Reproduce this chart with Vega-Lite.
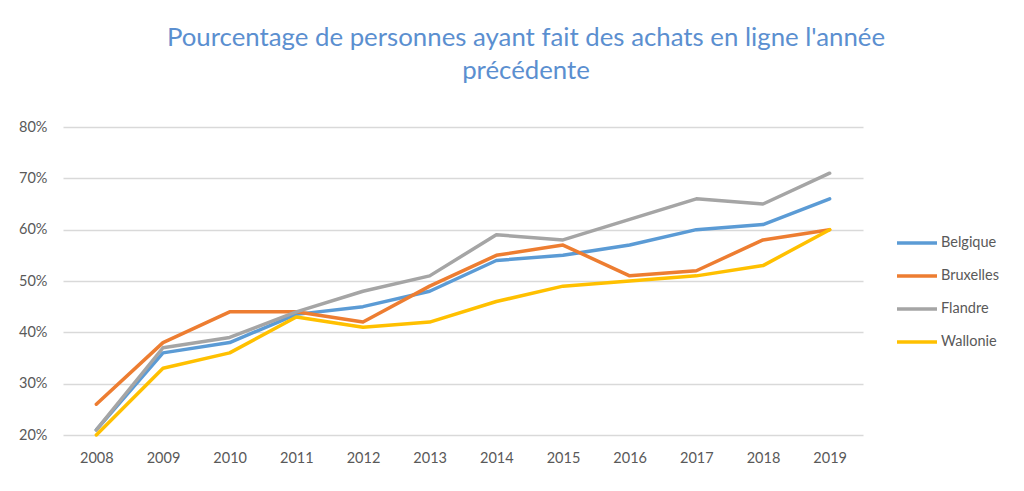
{
  "$schema": "https://vega.github.io/schema/vega-lite/v6.json",
  "width": 800,
  "height": 308,
  "autosize": {"type": "none"},
  "padding": {"left": 63, "top": 127, "right": 161, "bottom": 56},
  "background": "white",
  "title": {
    "text": ["Pourcentage de personnes ayant fait des achats en ligne l'année", "précédente"],
    "font": "Lato",
    "fontSize": 25.8,
    "fontWeight": "normal",
    "color": "#5B8FD0",
    "lineHeight": 33,
    "anchor": "middle",
    "frame": "group",
    "dx": 63,
    "offset": 34
  },
  "data": {
    "values": [
      {"annee": "2008", "region": "Belgique", "valeur": 0.21},
      {"annee": "2009", "region": "Belgique", "valeur": 0.36},
      {"annee": "2010", "region": "Belgique", "valeur": 0.38},
      {"annee": "2011", "region": "Belgique", "valeur": 0.435},
      {"annee": "2012", "region": "Belgique", "valeur": 0.45},
      {"annee": "2013", "region": "Belgique", "valeur": 0.48},
      {"annee": "2014", "region": "Belgique", "valeur": 0.54},
      {"annee": "2015", "region": "Belgique", "valeur": 0.55},
      {"annee": "2016", "region": "Belgique", "valeur": 0.57},
      {"annee": "2017", "region": "Belgique", "valeur": 0.60},
      {"annee": "2018", "region": "Belgique", "valeur": 0.61},
      {"annee": "2019", "region": "Belgique", "valeur": 0.66},
      {"annee": "2008", "region": "Bruxelles", "valeur": 0.26},
      {"annee": "2009", "region": "Bruxelles", "valeur": 0.38},
      {"annee": "2010", "region": "Bruxelles", "valeur": 0.44},
      {"annee": "2011", "region": "Bruxelles", "valeur": 0.44},
      {"annee": "2012", "region": "Bruxelles", "valeur": 0.42},
      {"annee": "2013", "region": "Bruxelles", "valeur": 0.49},
      {"annee": "2014", "region": "Bruxelles", "valeur": 0.55},
      {"annee": "2015", "region": "Bruxelles", "valeur": 0.57},
      {"annee": "2016", "region": "Bruxelles", "valeur": 0.51},
      {"annee": "2017", "region": "Bruxelles", "valeur": 0.52},
      {"annee": "2018", "region": "Bruxelles", "valeur": 0.58},
      {"annee": "2019", "region": "Bruxelles", "valeur": 0.60},
      {"annee": "2008", "region": "Flandre", "valeur": 0.21},
      {"annee": "2009", "region": "Flandre", "valeur": 0.37},
      {"annee": "2010", "region": "Flandre", "valeur": 0.39},
      {"annee": "2011", "region": "Flandre", "valeur": 0.44},
      {"annee": "2012", "region": "Flandre", "valeur": 0.48},
      {"annee": "2013", "region": "Flandre", "valeur": 0.51},
      {"annee": "2014", "region": "Flandre", "valeur": 0.59},
      {"annee": "2015", "region": "Flandre", "valeur": 0.58},
      {"annee": "2016", "region": "Flandre", "valeur": 0.62},
      {"annee": "2017", "region": "Flandre", "valeur": 0.66},
      {"annee": "2018", "region": "Flandre", "valeur": 0.65},
      {"annee": "2019", "region": "Flandre", "valeur": 0.71},
      {"annee": "2008", "region": "Wallonie", "valeur": 0.20},
      {"annee": "2009", "region": "Wallonie", "valeur": 0.33},
      {"annee": "2010", "region": "Wallonie", "valeur": 0.36},
      {"annee": "2011", "region": "Wallonie", "valeur": 0.43},
      {"annee": "2012", "region": "Wallonie", "valeur": 0.41},
      {"annee": "2013", "region": "Wallonie", "valeur": 0.42},
      {"annee": "2014", "region": "Wallonie", "valeur": 0.46},
      {"annee": "2015", "region": "Wallonie", "valeur": 0.49},
      {"annee": "2016", "region": "Wallonie", "valeur": 0.50},
      {"annee": "2017", "region": "Wallonie", "valeur": 0.51},
      {"annee": "2018", "region": "Wallonie", "valeur": 0.53},
      {"annee": "2019", "region": "Wallonie", "valeur": 0.60}
    ]
  },
  "mark": {"type": "line", "strokeWidth": 3.5, "strokeCap": "round", "strokeJoin": "round"},
  "encoding": {
    "x": {
      "field": "annee",
      "type": "ordinal",
      "scale": {"type": "point", "padding": 0.5},
      "axis": {
        "title": null,
        "labelAngle": 0,
        "domain": false,
        "ticks": false,
        "grid": false,
        "labelPadding": 16,
        "labelFont": "Lato",
        "labelFontSize": 14.5,
        "labelColor": "#595959"
      }
    },
    "y": {
      "field": "valeur",
      "type": "quantitative",
      "scale": {"domain": [0.2, 0.8], "nice": false, "zero": false},
      "axis": {
        "title": null,
        "format": ".0%",
        "values": [0.2, 0.3, 0.4, 0.5, 0.6, 0.7, 0.8],
        "domain": false,
        "ticks": false,
        "gridColor": "#D9D9D9",
        "gridWidth": 1.5,
        "labelPadding": 16,
        "labelFont": "Lato",
        "labelFontSize": 14.5,
        "labelColor": "#595959"
      }
    },
    "color": {
      "field": "region",
      "type": "nominal",
      "scale": {
        "domain": ["Belgique", "Bruxelles", "Flandre", "Wallonie"],
        "range": ["#5B9BD5", "#ED7D31", "#A5A5A5", "#FFC000"]
      },
      "legend": {
        "title": null,
        "orient": "none",
        "legendX": 832,
        "legendY": 94,
        "symbolType": "stroke",
        "symbolSize": 1600,
        "symbolStrokeWidth": 3.5,
        "symbolOffset": 0,
        "labelOffset": 2,
        "rowPadding": 4,
        "labelFont": "Lato",
        "labelFontSize": 14.5,
        "labelColor": "#595959"
      }
    }
  },
  "config": {"view": {"stroke": null}}
}
